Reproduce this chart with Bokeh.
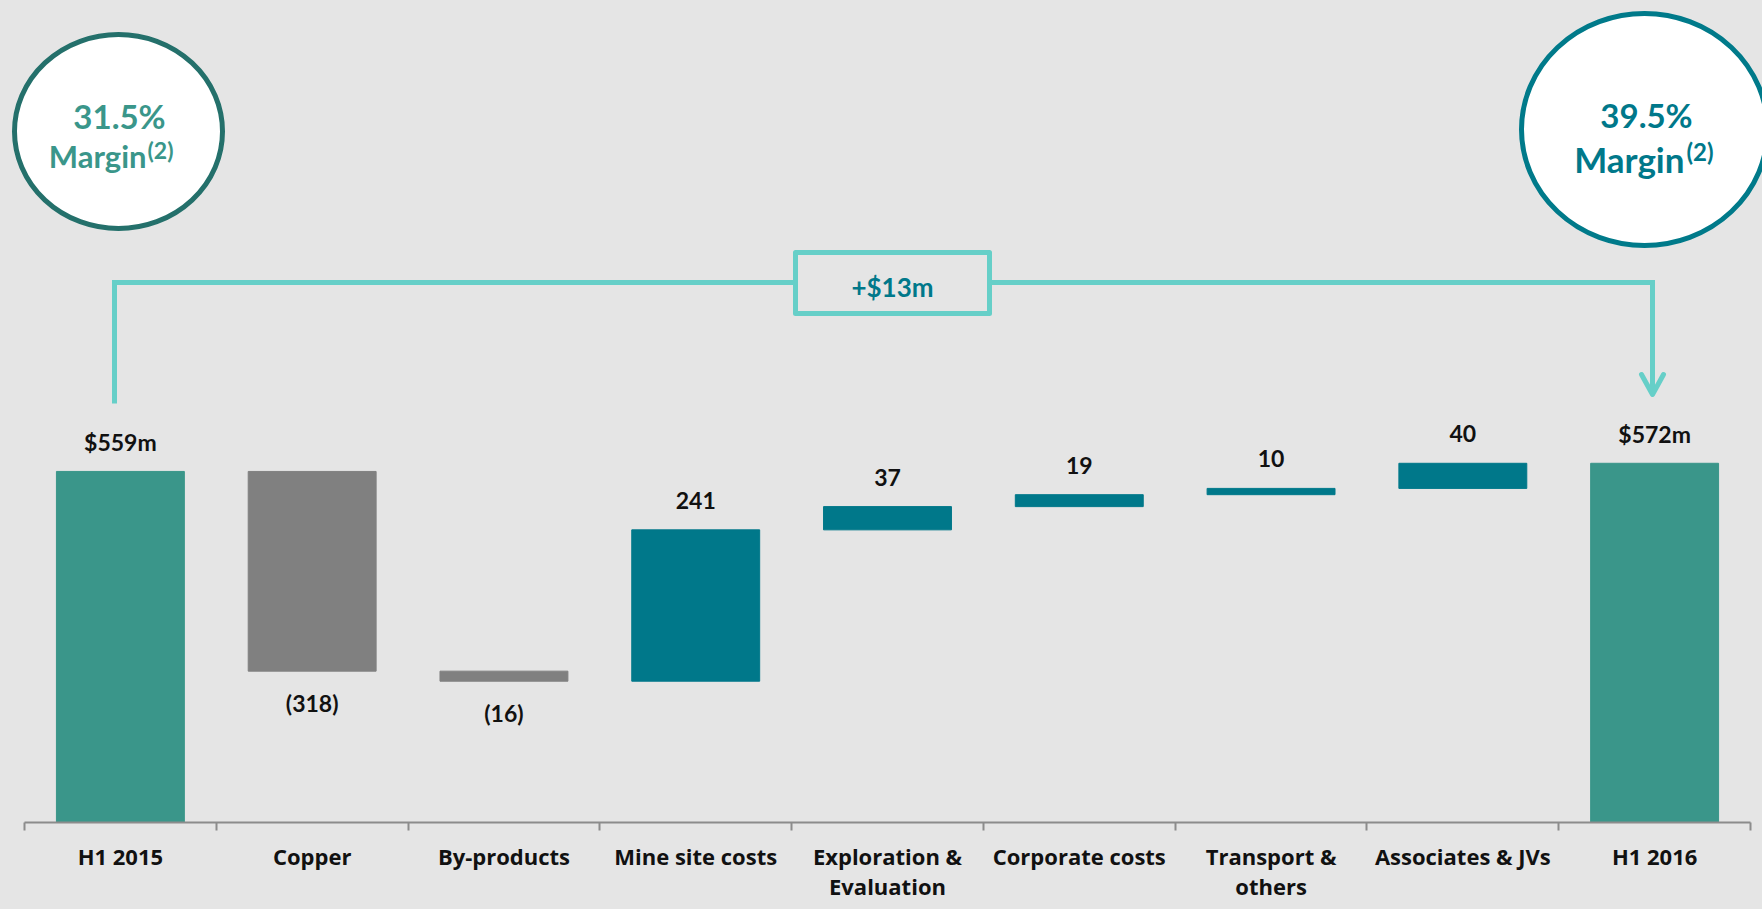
import numpy as np
from bokeh.plotting import figure
from bokeh.models import Range1d, LinearAxis, FixedTicker
from bokeh.core.properties import value
from bokeh.embed import file_html
from bokeh.resources import INLINE

# ---- data ----
categories = ["H1 2015", "Copper", "By-products", "Mine site costs",
              "Exploration &\nEvaluation", "Corporate costs",
              "Transport &\nothers", "Associates & JVs", "H1 2016"]
deltas = [559, -318, -16, 241, 37, 19, 10, 40, 572]
kinds = ["total", "neg", "neg", "pos", "pos", "pos", "pos", "pos", "total"]
value_labels = ["$559m", "(318)", "(16)", "241", "37", "19", "10", "40", "$572m"]
margin_start = "31.5%"
margin_end = "39.5%"
change_label = "+$13m"

# ---- colours ----
BG = "#E5E5E5"
C_TOTAL = "#3A968A"
C_NEG = "#808080"
C_POS = "#00788A"
C_LINE = "#66CFC8"
C_LEFT_RING = "#24706B"
C_RIGHT_RING = "#007A8A"
FONT = value("Lato")

# ---- waterfall geometry from data ----
bottoms, tops = [], []
running = 0
for d, k in zip(deltas, kinds):
    if k == "total":
        bottoms.append(0)
        tops.append(d)
        running = d
    else:
        start = running
        running = running + d
        bottoms.append(min(start, running))
        tops.append(max(start, running))
xs = list(range(len(categories)))
colors = [C_TOTAL if k == "total" else (C_NEG if k == "neg" else C_POS) for k in kinds]

# ---- figure / layout ----
W, H = 1762, 909
AXIS_X0, AXIS_X1 = 24, 1750      # pixel extent of the category axis
BASE_Y = 822                     # pixel row of the baseline
PX_PER_UNIT = 0.628
BB = H - BASE_Y
UNIT_X = (AXIS_X1 - AXIS_X0) / len(categories)
X0 = -0.5 - AXIS_X0 / UNIT_X
X1 = len(categories) - 0.5 + (W - AXIS_X1) / UNIT_X
Y_TOP = BASE_Y / PX_PER_UNIT

p = figure(width=W, height=H, output_backend="svg", toolbar_location=None,
           x_range=Range1d(X0, X1), y_range=Range1d(0, Y_TOP),
           x_axis_type=None, y_axis_type=None,
           min_border_left=0, min_border_right=0,
           min_border_top=0, min_border_bottom=BB)
p.background_fill_color = BG
p.border_fill_color = BG
p.outline_line_color = None
p.grid.visible = False


def dx(px):
    return -0.5 + (px - AXIS_X0) / UNIT_X


def dy(py):
    return (BASE_Y - py) / PX_PER_UNIT


# bars
p.vbar(x=xs, bottom=bottoms, top=tops, width=0.667, fill_color=colors,
       line_color=colors, line_width=1)

# value labels
up_x = [x for x, k in zip(xs, kinds) if k != "neg"]
up_y = [t for t, k in zip(tops, kinds) if k != "neg"]
up_t = [t for t, k in zip(value_labels, kinds) if k != "neg"]
dn_x = [x for x, k in zip(xs, kinds) if k == "neg"]
dn_y = [b for b, k in zip(bottoms, kinds) if k == "neg"]
dn_t = [t for t, k in zip(value_labels, kinds) if k == "neg"]
p.text(x=up_x, y=up_y, text=up_t, text_font=FONT, text_font_style="bold",
       text_font_size="23px", text_align="center", text_baseline="middle",
       y_offset=-29.5, text_color="#111111")
p.text(x=dn_x, y=dn_y, text=dn_t, text_font=FONT, text_font_style="bold",
       text_font_size="23px", text_align="center", text_baseline="middle",
       y_offset=31.5, text_color="#111111")

# axis
ax = LinearAxis(ticker=FixedTicker(ticks=xs, minor_ticks=[x - 0.5 for x in xs] + [xs[-1] + 0.5]),
                bounds=(-0.5, len(categories) - 0.5))
ax.major_label_overrides = {x: c for x, c in zip(xs, categories)}
ax.major_tick_out = 0
ax.major_tick_in = 0
ax.minor_tick_out = 8
ax.minor_tick_in = 0
ax.axis_line_color = "#8C8C8C"
ax.axis_line_width = 2
ax.minor_tick_line_color = "#8C8C8C"
ax.minor_tick_line_width = 2
ax.major_label_standoff = 10
ax.major_label_text_font = "Open Sans"
ax.major_label_text_font_style = "bold"
ax.major_label_text_font_size = "22px"
ax.major_label_text_color = "#111111"
ax.major_label_text_line_height = 1.03
p.add_layout(ax, "below")

# margin circles
p.ellipse(x=[dx(118)], y=[dy(131)], width=208, height=194,
          width_units="screen", height_units="screen",
          fill_color="white", line_color=C_LEFT_RING, line_width=5)
p.ellipse(x=[dx(1644)], y=[dy(129)], width=246, height=232,
          width_units="screen", height_units="screen",
          fill_color="white", line_color=C_RIGHT_RING, line_width=5)

p.text(x=[dx(119)], y=[dy(115)], text=[margin_start], text_font=FONT,
       text_font_style="bold", text_font_size="33px", text_align="center",
       text_baseline="middle", text_color=C_TOTAL)
p.text(x=[dx(146)], y=[dy(155)], text=["Margin"], text_font=FONT,
       text_font_style="bold", text_font_size="31px", text_align="right",
       text_baseline="middle", text_color=C_TOTAL)
p.text(x=[dx(147)], y=[dy(149)], text=["(2)"], text_font=FONT,
       text_font_style="bold", text_font_size="23px", text_align="left",
       text_baseline="middle", text_color=C_TOTAL)

p.text(x=[dx(1646)], y=[dy(114)], text=[margin_end], text_font=FONT,
       text_font_style="bold", text_font_size="33px", text_align="center",
       text_baseline="middle", text_color=C_POS)
p.text(x=[dx(1684)], y=[dy(158)], text=["Margin"], text_font=FONT,
       text_font_style="bold", text_font_size="35px", text_align="right",
       text_baseline="middle", text_color=C_POS)
p.text(x=[dx(1686)], y=[dy(151)], text=["(2)"], text_font=FONT,
       text_font_style="bold", text_font_size="24px", text_align="left",
       text_baseline="middle", text_color=C_POS)

# change bracket
p.line(x=[dx(114), dx(114), dx(793)], y=[dy(403), dy(282), dy(282)],
       line_color=C_LINE, line_width=5, line_join="miter")
p.line(x=[dx(991), dx(1652), dx(1652)], y=[dy(282), dy(282), dy(392)],
       line_color=C_LINE, line_width=5, line_join="miter")
p.line(x=[dx(1641), dx(1652), dx(1663)], y=[dy(374), dy(394), dy(374)],
       line_color=C_LINE, line_width=5, line_join="round", line_cap="round")
p.quad(left=[dx(795)], right=[dx(989)], top=[dy(252)], bottom=[dy(313)],
       fill_color=None, line_color=C_LINE, line_width=5, line_join="round")
p.text(x=[dx(892)], y=[dy(286)], text=[change_label], text_font=FONT,
       text_font_style="bold", text_font_size="26px", text_align="center",
       text_baseline="middle", text_color=C_POS)

html = file_html(p, INLINE)
html = html.replace(
    "<head>",
    "<head><style>html,body{background:%s;margin:0;padding:0;overflow:hidden;}</style>" % BG,
    1)
open("out.html", "w").write(html)
